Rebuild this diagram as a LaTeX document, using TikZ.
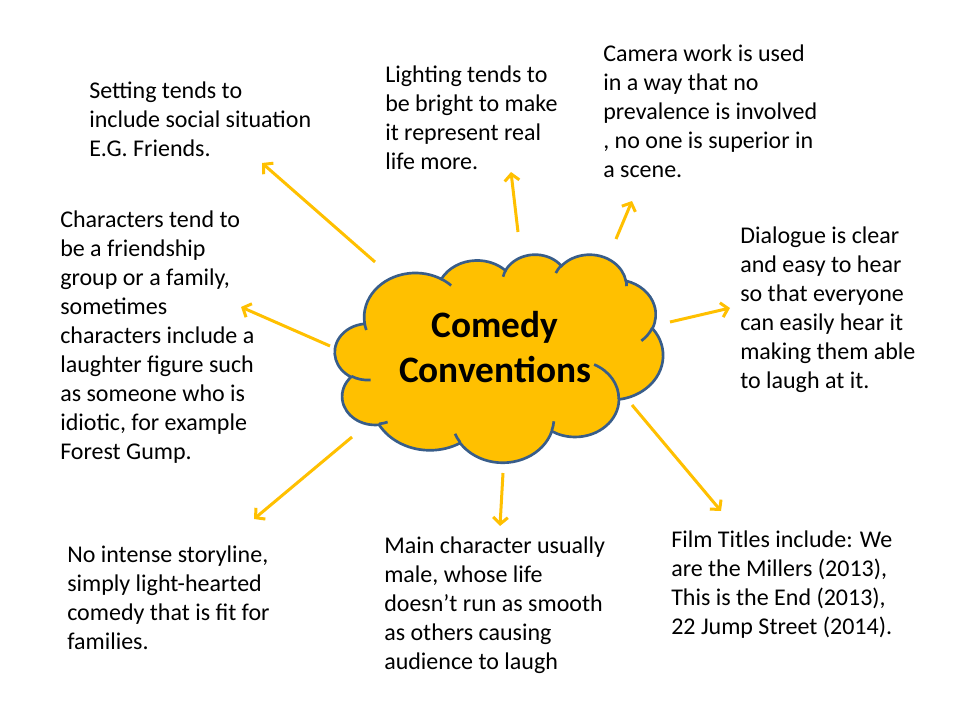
\documentclass[tikz,border=0pt]{standalone}
\usepackage{fontspec}
\setmainfont{Carlito}
\usetikzlibrary{arrows.meta}
\definecolor{cloudgold}{HTML}{FFC000}
\definecolor{cloudblue}{HTML}{385D8A}
\tikzset{
  note/.style={anchor=base west, align=left, inner sep=0pt, font=\fontsize{18pt}{21.75pt}\selectfont},
  pointer/.style={draw=cloudgold, line width=2.25pt, -{Straight Barb[length=5pt,width=11pt]}},
}
% one lobe of the cloud: radii, start angle and sweep as seen on the slide
\newcommand\lobe[4]{arc[x radius={(#1)*0.5694pt}, y radius={(#2)*0.3611pt},
  start angle={-atan2((#1)*sin(#3),(#2)*cos(#3))},
  delta angle={-mod(atan2((#1)*sin((#3)+(#4)),(#2)*cos((#3)+(#4)))-atan2((#1)*sin(#3),(#2)*cos(#3))+720,360)}]}

\begin{document}
\begin{tikzpicture}[x=0.75pt, y=-0.75pt]
  \useasboundingbox (0,0) rectangle (960,720);
  \fill[white] (0,0) rectangle (960,720);

  % cloud
  \begin{scope}[shift={(335,254)}, x=0.5694pt, y=-0.3611pt]
    \draw[fill=cloudgold, draw=cloudblue, line width=2pt] (39.00,143.70)
      \lobe{67.53}{91.90}{-190.4875}{123.7805}
      \lobe{53.33}{72.67}{-144.1024}{89.9452}
      \lobe{43.65}{59.45}{-145.8079}{99.7230}
      \lobe{48.57}{65.95}{-130.9861}{117.2417}
      \lobe{53.33}{72.73}{-78.7089}{109.0269}
      \lobe{67.75}{92.20}{-46.2673}{130.2690}
      \lobe{57.85}{78.67}{0.6250}{114.0333}
      \lobe{67.52}{92.15}{22.4516}{115.1726}
      \lobe{77.20}{105.43}{66.2426}{75.7110}
      \lobe{43.60}{59.18}{-274.9421}{146.7356}
      \lobe{43.45}{59.45}{-246.8285}{152.5189} -- cycle;
    % inner curls
    \draw[draw=cloudblue, line width=2pt]
      (46.93,261.77) \lobe{43.45}{59.45}{86.7420}{26.4295}
      (69.28,348.99) \lobe{43.60}{59.18}{73.6105}{11.4475}
      (164.78,390.90) \lobe{67.52}{92.15}{137.6242}{14.0811}
      (288.27,347.51) \lobe{67.52}{92.15}{6.4533}{15.9984}
      (341.29,229.54) \lobe{57.85}{78.67}{-70.2924}{70.9174}
      (417.98,153.54) \lobe{53.33}{72.73}{30.3180}{27.7515}
      (383.24,54.26) \lobe{48.57}{65.95}{-13.7443}{14.8589}
      (290.78,39.52) \lobe{48.57}{65.95}{-149.1815}{18.1954}
      (221.41,47.20) \lobe{43.65}{59.45}{-163.4943}{17.6864}
      (140.00,51.92) \lobe{67.53}{91.90}{-66.7070}{12.3194}
      (41.27,157.89) \lobe{67.53}{91.90}{157.6544}{11.8582};
  \end{scope}
  \node[anchor=base, align=center, inner sep=0pt, font=\fontsize{28pt}{33.75pt}\selectfont\bfseries] (title) at (495,382) {Comedy\\Conventions};

  % texts (placed at the baseline of their last line)
  \node[note] (setting) at (89,157) {Setting tends to\\include social situation\\E.G. Friends.};
  \node[note] (characters) at (60,459) {Characters tend to\\be a friendship\\group or a family,\\sometimes\\characters include a\\laughter figure such\\as someone who is\\idiotic, for example\\Forest Gump.};
  \node[note] (lighting) at (385,170) {Lighting tends to\\be bright to make\\it represent real\\life more.};
  \node[note] (camera) at (603,178) {Camera work is used\\in a way that no\\prevalence is involved\\, no one is superior in\\a scene.};
  \node[note] (dialogue) at (740,388) {Dialogue is clear\\and easy to hear\\so that everyone\\can easily hear it\\making them able\\to laugh at it.};
  \node[note] (storyline) at (67,649) {No intense storyline,\\simply light-hearted\\comedy that is fit for\\families.};
  \node[note] (maincharacter) at (384,669) {Main character usually\\male, whose life\\doesn’t run as smooth\\as others causing\\audience to laugh};
  \node[note] (films) at (671,634) {Film Titles include: We\\are the Millers (2013),\\This is the End (2013),\\22 Jump Street (2014).};

  % arrows out of the cloud
  \coordinate (settingT) at (375,262);       \coordinate (settingH) at (262,163);
  \coordinate (lightingT) at (518,232);      \coordinate (lightingH) at (511,172);
  \coordinate (cameraT) at (616,239);        \coordinate (cameraH) at (632,201);
  \coordinate (dialogueT) at (670,322);      \coordinate (dialogueH) at (730,308);
  \coordinate (charactersT) at (330,346);    \coordinate (charactersH) at (241,307);
  \coordinate (storylineT) at (352,437);     \coordinate (storylineH) at (254,519);
  \coordinate (maincharacterT) at (503,473); \coordinate (maincharacterH) at (500,526);
  \coordinate (filmsT) at (632,405);         \coordinate (filmsH) at (721,511);
  \draw[pointer] (settingT) -- (settingH);
  \draw[pointer] (lightingT) -- (lightingH);
  \draw[pointer] (cameraT) -- (cameraH);
  \draw[pointer] (dialogueT) -- (dialogueH);
  \draw[pointer] (charactersT) -- (charactersH);
  \draw[pointer] (storylineT) -- (storylineH);
  \draw[pointer] (maincharacterT) -- (maincharacterH);
  \draw[pointer] (filmsT) -- (filmsH);
\end{tikzpicture}
\end{document}
